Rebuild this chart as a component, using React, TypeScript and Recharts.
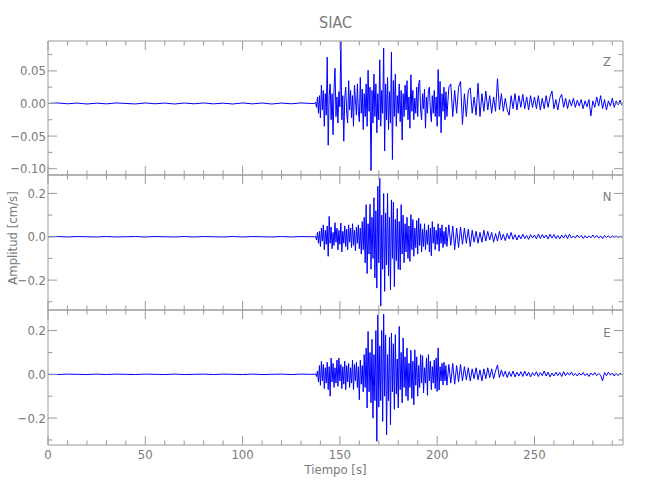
import React from 'react';
import { LineChart, Line, XAxis, YAxis } from 'recharts';

const TITLE = 'SIAC';
const X_LABEL = 'Tiempo [s]';
const Y_LABEL = 'Amplitud [cm/s]';
const CHANNEL_NAMES = ['Z', 'N', 'E'];

const X_MAJOR = [0, 50, 100, 150, 200, 250];
const X_MINOR = [10, 20, 30, 40, 60, 70, 80, 90, 110, 120, 130, 140, 160, 170, 180, 190, 210, 220, 230, 240, 260, 270, 280, 290];
const X_DOMAIN = [0, 295.5];

const Z_MAJOR = [-0.1, -0.05, 0, 0.05];
const Z_MINOR = [-0.075, -0.025, 0.025, 0.075];
const Z_DOMAIN = [-0.1097, 0.0958];
const NE_MAJOR = [-0.2, 0, 0.2];
const NE_MINOR = [-0.3, -0.1, 0.1];
const N_DOMAIN = [-0.338, 0.285];
const E_DOMAIN = [-0.323, 0.294];

// sampling: pre-event every 5 s from 0, strong motion every 0.5 s from 137, coda every 1 s from 205
const PRE_START = 0, PRE_STEP = 5;
const STRONG_START = 137, STRONG_STEP = 0.5;
const TAIL_START = 205, TAIL_STEP = 1;

const zPre = [0.000, 0.0008, -0.0005, 0.0006, -0.0008, 0.0005, -0.0006, 0.0008, 0.000, -0.0007, 0.0008, -0.0005, 0.0006, -0.0008, 0.0007, -0.0005, 0.0008, -0.0006, 0.0005, -0.0008, 0.0008, -0.0006, 0.0007, -0.0008, 0.0006, -0.0005, 0.0008, 0.000];
const zStrong = [
  0.000, 0.002, -0.006, 0.010, -0.015, 0.012, -0.022, 0.028, -0.010, 0.020,
  -0.035, 0.015, -0.018, 0.071, -0.064, 0.012, 0.030, -0.025, 0.015, -0.048,
  0.022, 0.054, -0.020, 0.010, -0.030, 0.018, -0.005, 0.095, -0.025, 0.012,
  -0.058, 0.008, 0.025, -0.015, -0.030, 0.035, -0.010, 0.020, -0.022, 0.012,
  -0.035, 0.028, 0.005, -0.018, 0.030, -0.012, -0.028, 0.040, -0.015, 0.022,
  -0.040, 0.015, -0.020, 0.030, -0.035, 0.051, -0.012, 0.025, -0.103, 0.020,
  -0.030, 0.045, -0.020, 0.030, -0.045, 0.015, -0.025, 0.067, -0.035, 0.020,
  -0.015, 0.085, -0.073, 0.030, -0.025, 0.040, -0.040, 0.018, -0.030, 0.079,
  -0.086, 0.035, -0.020, 0.045, -0.035, 0.012, -0.015, 0.030, -0.028, 0.020,
  -0.056, 0.015, -0.020, 0.028, -0.010, 0.035, -0.025, 0.010, -0.038, 0.044,
  -0.012, 0.020, -0.025, 0.008, -0.015, 0.025, -0.020, 0.030, 0.036, -0.010,
  -0.025, 0.015, -0.008, 0.022, -0.038, 0.010, -0.015, 0.020, 0.025, -0.010,
  -0.028, 0.012, -0.015, 0.020, -0.020, 0.010, -0.035, 0.052, -0.020, 0.034,
  -0.045, 0.015, -0.012, 0.025, -0.025, 0.018,
];
const zTail = [
  -0.020, 0.025, 0.030, -0.020, 0.020, -0.015, 0.025, 0.034, -0.032, 0.015,
  -0.020, 0.020, 0.024, -0.015, 0.010, -0.018, 0.031, -0.020, 0.015, -0.012,
  0.019, -0.010, 0.012, -0.015, 0.010, -0.012, 0.038, -0.010, 0.015, -0.012,
  0.008, -0.010, -0.018, 0.012, -0.008, 0.015, -0.010, 0.012, -0.006, 0.014,
  -0.008, 0.010, -0.010, 0.012, -0.006, 0.010, -0.008, 0.012, -0.010, 0.008,
  -0.008, 0.012, -0.006, 0.010, 0.019, -0.008, 0.006, -0.010, 0.008, 0.014,
  -0.006, 0.008, -0.008, 0.006, -0.004, 0.008, -0.006, 0.005, -0.004, 0.006,
  -0.008, 0.004, -0.005, 0.006, -0.019, 0.004, -0.006, 0.010, -0.004, 0.012,
  -0.008, 0.006, -0.010, 0.004, -0.004, 0.008, -0.006, 0.004, -0.002, 0.005,
  -0.003,
];

const nPre = [0.000, 0.001, -0.001, 0.001, 0.000, -0.001, 0.001, -0.001, 0.000, 0.001, -0.001, 0.001, 0.000, -0.001, 0.001, -0.001, 0.001, 0.000, -0.001, 0.001, -0.001, 0.001, 0.000, -0.001, 0.001, -0.001, 0.001, 0.000];
const nStrong = [
  0.000, 0.003, -0.015, 0.020, -0.030, 0.025, -0.045, 0.040, -0.020, 0.055,
  -0.060, 0.030, -0.035, 0.050, -0.090, 0.094, -0.030, 0.045, -0.055, 0.020,
  -0.040, 0.065, -0.025, 0.040, -0.060, 0.030, -0.035, 0.063, -0.070, 0.025,
  -0.030, 0.050, -0.045, 0.035, -0.060, 0.055, -0.025, 0.040, -0.050, 0.060,
  -0.040, 0.030, -0.065, 0.045, -0.030, 0.055, -0.055, 0.040, -0.080, 0.070,
  -0.060, 0.090, -0.120, 0.148, -0.170, 0.060, -0.080, 0.150, -0.150, 0.090,
  -0.100, 0.180, -0.190, 0.120, -0.237, 0.233, -0.120, 0.270, -0.320, 0.100,
  -0.150, 0.200, -0.252, 0.110, -0.130, 0.200, -0.180, 0.090, -0.245, 0.170,
  -0.100, 0.160, -0.230, 0.080, -0.110, 0.130, -0.150, 0.070, -0.153, 0.148,
  -0.080, 0.100, -0.120, 0.060, -0.070, 0.090, -0.100, 0.050, -0.114, 0.102,
  -0.060, 0.080, -0.090, 0.040, -0.050, 0.075, -0.080, 0.086, -0.040, 0.060,
  -0.070, 0.035, -0.045, 0.060, -0.060, 0.030, -0.035, 0.055, -0.070, 0.040,
  -0.088, 0.070, -0.030, 0.045, -0.060, 0.030, -0.035, 0.060, -0.067, 0.040,
  -0.030, 0.055, -0.050, 0.025, -0.035, 0.045,
];
const nTail = [
  -0.045, 0.055, -0.040, 0.050, -0.060, 0.040, -0.050, 0.045, -0.035, 0.040,
  -0.030, 0.035, -0.045, 0.030, -0.025, 0.025, -0.030, 0.020, -0.025, 0.030,
  -0.020, 0.025, -0.015, 0.020, -0.025, 0.015, -0.020, 0.025, -0.015, 0.012,
  -0.018, 0.015, -0.010, 0.020, -0.012, 0.010, -0.015, 0.008, -0.010, 0.012,
  -0.008, 0.006, -0.012, 0.010, -0.006, 0.008, -0.010, 0.012, -0.008, 0.010,
  -0.006, 0.008, -0.010, 0.012, -0.006, 0.010, -0.008, 0.006, -0.010, 0.008,
  -0.006, 0.010, -0.008, 0.012, -0.006, 0.004, -0.006, 0.008, -0.004, 0.006,
  -0.008, 0.005, -0.006, 0.004, -0.005, 0.008, -0.004, 0.006, -0.006, 0.004,
  -0.008, 0.006, -0.004, 0.005, -0.006, 0.004, -0.003, 0.005, -0.004, 0.003,
  -0.002,
];

const ePre = [0.000, -0.001, 0.001, 0.000, -0.001, 0.001, -0.001, 0.001, 0.000, -0.001, 0.001, 0.000, -0.001, 0.001, -0.001, 0.000, 0.001, -0.001, 0.001, 0.000, -0.001, 0.001, -0.001, 0.000, 0.001, -0.001, 0.001, 0.000];
const eStrong = [
  0.000, 0.003, -0.010, 0.015, -0.035, 0.040, -0.050, 0.059, -0.030, 0.045,
  -0.065, 0.030, -0.040, 0.055, -0.070, 0.035, -0.100, 0.074, -0.035, 0.050,
  -0.060, 0.030, -0.040, 0.065, -0.055, 0.074, -0.030, 0.045, -0.065, 0.035,
  -0.045, 0.060, -0.070, 0.040, -0.035, 0.050, -0.060, 0.030, -0.040, 0.065,
  -0.070, 0.045, -0.030, 0.055, -0.060, 0.035, -0.116, 0.065, -0.045, 0.040,
  -0.080, 0.090, -0.060, 0.120, -0.154, 0.196, -0.080, 0.100, -0.130, 0.160,
  -0.200, 0.090, -0.120, 0.200, -0.306, 0.272, -0.150, 0.130, -0.120, 0.200,
  -0.215, 0.275, -0.100, 0.180, -0.276, 0.090, -0.120, 0.170, -0.230, 0.189,
  -0.080, 0.140, -0.160, 0.181, -0.090, 0.070, -0.154, 0.219, -0.070, 0.100,
  -0.130, 0.166, -0.060, 0.080, -0.100, 0.120, -0.120, 0.050, -0.060, 0.110,
  -0.110, 0.060, -0.139, 0.112, -0.050, 0.080, -0.100, 0.040, -0.060, 0.090,
  -0.040, 0.085, -0.085, 0.030, -0.040, 0.075, -0.096, 0.090, -0.030, 0.060,
  -0.070, 0.035, -0.040, 0.065, -0.065, 0.075, -0.078, 0.121, -0.072, 0.035,
  -0.030, 0.050, -0.049, 0.055, -0.030, 0.040,
];
const eTail = [
  -0.050, 0.045, -0.040, 0.050, -0.045, 0.040, -0.035, 0.045, -0.030, 0.035,
  -0.025, 0.030, -0.030, 0.025, -0.020, 0.030, -0.025, 0.020, -0.030, 0.025,
  -0.020, 0.030, -0.015, 0.025, -0.020, 0.015, 0.043, -0.015, 0.020, -0.010,
  0.015, -0.015, 0.012, -0.010, 0.015, -0.012, 0.010, -0.008, 0.012, -0.010,
  0.015, -0.008, 0.010, -0.012, 0.008, -0.006, 0.012, -0.010, 0.008, -0.006,
  0.015, -0.008, 0.010, -0.012, 0.006, -0.008, 0.010, -0.006, 0.008, -0.010,
  0.012, -0.006, 0.008, -0.004, 0.010, -0.006, 0.004, -0.008, 0.006, -0.004,
  0.008, -0.006, 0.004, -0.010, 0.006, -0.004, 0.008, -0.006, 0.004, -0.004,
  -0.030, 0.008, -0.006, 0.010, -0.004, 0.006, -0.008, 0.004, -0.006, 0.005,
  -0.003,
];

type Row = { t: number; v: number };
function buildSeries(pre: number[], strong: number[], tail: number[]): Row[] {
  const rows: Row[] = [];
  pre.forEach((v, i) => rows.push({ t: PRE_START + i * PRE_STEP, v }));
  strong.forEach((v, i) => rows.push({ t: STRONG_START + i * STRONG_STEP, v }));
  tail.forEach((v, i) => rows.push({ t: TAIL_START + i * TAIL_STEP, v }));
  return rows;
}

const W = 650;
const H = 500;
const PLOT_LEFT = 48;
const PLOT_RIGHT = 623;
const PANEL_EDGES = [41, 175, 310, 445];
const AXIS_COLOR = '#9a9a9a';
const TEXT_COLOR = '#7a7a7a';
const FONT = '"Liberation Sans Narrow", "DejaVu Sans Condensed", "Liberation Sans", sans-serif';
const LINE_COLOR = '#0000ff';
const MAJOR_LEN = 9;
const MINOR_LEN = 4.5;

const fmt = (v: number, d: number) => {
  const s = Math.abs(v) < 1e-9 ? (0).toFixed(d) : v.toFixed(d);
  return s.replace('-', '\u2212');
};

type Side = 'bottom' | 'top' | 'left' | 'right';

function makeTick(side: Side, edge: number, major: number[], showLabel: boolean, decimals: number) {
  return (props: any) => {
    const value: number = props.payload.value;
    const isMajor = major.some((m) => Math.abs(m - value) < 1e-9);
    const len = isMajor ? MAJOR_LEN : MINOR_LEN;
    const stroke = AXIS_COLOR;
    if (side === 'bottom' || side === 'top') {
      const x = props.x;
      const dir = side === 'bottom' ? -1 : 1;
      return (
        <g>
          <line x1={x} x2={x} y1={edge} y2={edge + dir * len} stroke={stroke} strokeWidth={1} />
          {showLabel && isMajor ? (
            <text x={x} y={edge + 14} textAnchor="middle" fill={TEXT_COLOR} fontSize={13} fontFamily={FONT}>
              {String(value)}
            </text>
          ) : null}
        </g>
      );
    }
    const y = props.y;
    const dir = side === 'left' ? 1 : -1;
    return (
      <g>
        <line x1={edge} x2={edge + dir * len} y1={y} y2={y} stroke={stroke} strokeWidth={1} />
        {showLabel && isMajor ? (
          <text x={edge - 2} y={y + 4.5} textAnchor="end" fill={TEXT_COLOR} fontSize={13} fontFamily={FONT}>
            {fmt(value, decimals)}
          </text>
        ) : null}
      </g>
    );
  };
}

type PanelProps = {
  idx: number;
  data: Row[];
  yDomain: number[];
  yMajor: number[];
  yMinor: number[];
  decimals: number;
  showX: boolean;
};

function Panel({ idx, data, yDomain, yMajor, yMinor, decimals, showX }: PanelProps) {
  const top = PANEL_EDGES[idx];
  const bottom = PANEL_EDGES[idx + 1];
  const margin = { top: top - 1, bottom: H - bottom - 1, left: PLOT_LEFT - 1, right: W - PLOT_RIGHT - 1 };
  const lineStyle = { stroke: AXIS_COLOR, strokeWidth: 1 };
  const xTicks = [...X_MAJOR, ...X_MINOR].sort((a, b) => a - b);
  const yTicks = [...yMajor, ...yMinor].sort((a, b) => a - b);
  return (
    <div style={{ position: 'absolute', left: 0, top: 0, width: W, height: H }}>
      <LineChart width={W} height={H} data={data} margin={margin}>
        <XAxis xAxisId="b" dataKey="t" type="number" domain={X_DOMAIN} allowDataOverflow ticks={xTicks} interval={0}
          orientation="bottom" height={1} axisLine={lineStyle} tickLine={false}
          tick={makeTick('bottom', bottom, X_MAJOR, showX, 0)} />
        <XAxis xAxisId="t" dataKey="t" type="number" domain={X_DOMAIN} allowDataOverflow ticks={xTicks} interval={0}
          orientation="top" height={1} axisLine={lineStyle} tickLine={false}
          tick={makeTick('top', top, X_MAJOR, false, 0)} />
        <YAxis yAxisId="l" type="number" domain={yDomain} allowDataOverflow ticks={yTicks} interval={0}
          orientation="left" width={1} axisLine={lineStyle} tickLine={false}
          tick={makeTick('left', PLOT_LEFT, yMajor, true, decimals)} />
        <YAxis yAxisId="r" type="number" domain={yDomain} allowDataOverflow ticks={yTicks} interval={0}
          orientation="right" width={1} axisLine={lineStyle} tickLine={false}
          tick={makeTick('right', PLOT_RIGHT, yMajor, false, decimals)} />
        <Line xAxisId="b" yAxisId="l" dataKey="v" type="linear" stroke={LINE_COLOR} strokeWidth={1}
          dot={false} activeDot={false} isAnimationActive={false} />
      </LineChart>
    </div>
  );
}

export default function App() {
  const zData = buildSeries(zPre, zStrong, zTail);
  const nData = buildSeries(nPre, nStrong, nTail);
  const eData = buildSeries(ePre, eStrong, eTail);
  const cx = (PLOT_LEFT + PLOT_RIGHT) / 2;
  return (
    <div style={{ position: 'absolute', left: 0, top: 0, width: W, height: H, background: '#fff' }}>
      <Panel idx={0} data={zData} yDomain={Z_DOMAIN} yMajor={Z_MAJOR} yMinor={Z_MINOR} decimals={2} showX={false} />
      <Panel idx={1} data={nData} yDomain={N_DOMAIN} yMajor={NE_MAJOR} yMinor={NE_MINOR} decimals={1} showX={false} />
      <Panel idx={2} data={eData} yDomain={E_DOMAIN} yMajor={NE_MAJOR} yMinor={NE_MINOR} decimals={1} showX={true} />
      <svg width={W} height={H} style={{ position: 'absolute', left: 0, top: 0, pointerEvents: 'none' }}>
        <text x={cx} y={28} textAnchor="middle" fill={TEXT_COLOR} fontSize={16} fontFamily={FONT}>{TITLE}</text>
        <text x={cx} y={474} textAnchor="middle" fill={TEXT_COLOR} fontSize={13} fontFamily={FONT}>{X_LABEL}</text>
        <text x={17} y={238} textAnchor="middle" fill={TEXT_COLOR} fontSize={13} fontFamily={FONT}
          transform="rotate(-90 17 238)">{Y_LABEL}</text>
        {CHANNEL_NAMES.map((n, i) => (
          <text key={n} x={607} y={[66, 201, 337][i]} textAnchor="middle" fill={TEXT_COLOR} fontSize={13} fontFamily={FONT}>{n}</text>
        ))}
      </svg>
    </div>
  );
}
